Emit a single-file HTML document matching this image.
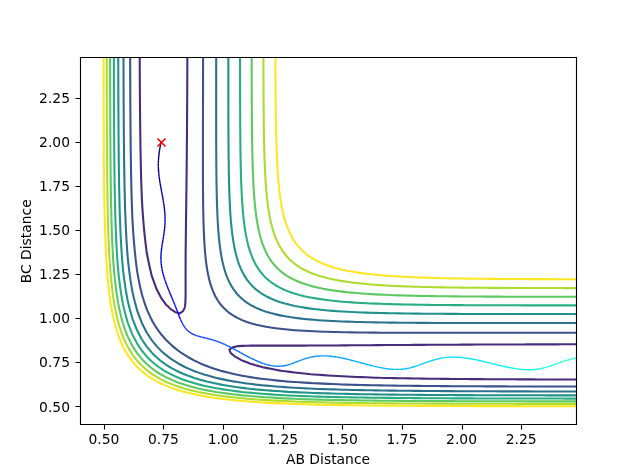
<!DOCTYPE html>
<html><head><meta charset="utf-8"><title>AB/BC Distance contour plot</title>
<style>html,body{margin:0;padding:0;background:#fff;overflow:hidden}svg{display:block;will-change:transform}</style></head>
<body>
<svg width="640" height="476" viewBox="0 0 640 476">
<rect x="0" y="0" width="640" height="476" fill="#ffffff"/>
<clipPath id="ax"><rect x="80.0" y="57.12" width="496.0" height="366.52"/></clipPath>
<g clip-path="url(#ax)" fill="none" stroke-linejoin="round" stroke-linecap="butt">
<path d="M576.00 379.52 L571.23 379.51 L566.46 379.50 L561.69 379.49 L556.92 379.47 L552.15 379.46 L547.38 379.45 L542.62 379.43 L537.85 379.42 L533.08 379.40 L528.31 379.39 L523.54 379.37 L518.77 379.35 L514.00 379.33 L509.23 379.31 L504.46 379.29 L499.69 379.26 L494.92 379.24 L490.15 379.21 L485.38 379.19 L480.62 379.16 L475.85 379.12 L471.08 379.09 L466.31 379.05 L461.54 379.02 L456.77 378.98 L452.00 378.93 L447.23 378.89 L442.46 378.84 L437.69 378.79 L432.92 378.73 L428.15 378.67 L423.38 378.61 L418.62 378.54 L413.85 378.47 L409.08 378.40 L404.31 378.32 L399.54 378.23 L394.77 378.14 L390.00 378.04 L385.23 377.94 L380.46 377.83 L380.29 377.82 L375.69 377.67 L370.92 377.50 L366.15 377.33 L361.38 377.14 L356.62 376.93 L351.85 376.72 L347.08 376.49 L342.31 376.25 L337.54 376.00 L332.77 375.73 L328.00 375.44 L323.23 375.14 L318.46 374.83 L313.69 374.49 L311.14 374.30 L308.92 374.07 L304.15 373.56 L299.38 373.03 L294.62 372.47 L289.85 371.89 L285.08 371.30 L281.08 370.78 L280.31 370.63 L275.54 369.72 L270.77 368.80 L266.00 367.88 L262.82 367.25 L261.23 366.80 L256.46 365.43 L251.69 364.11 L250.32 363.73 L246.92 362.32 L242.15 360.50 L241.35 360.20 L237.38 357.91 L234.96 356.68 L232.62 354.56 L230.77 353.16 L229.34 349.63 L232.62 347.37 L237.38 346.18 L238.01 346.11 L242.15 345.85 L246.92 345.70 L251.69 345.63 L256.46 345.61 L261.23 345.60 L266.00 345.61 L270.77 345.61 L275.54 345.62 L280.31 345.63 L285.08 345.63 L289.85 345.62 L294.62 345.62 L299.38 345.61 L304.15 345.59 L308.92 345.58 L313.69 345.55 L318.46 345.53 L323.23 345.50 L328.00 345.48 L332.77 345.45 L337.54 345.42 L342.31 345.38 L347.08 345.35 L351.85 345.32 L356.62 345.28 L361.38 345.25 L366.15 345.21 L370.92 345.18 L375.69 345.15 L380.46 345.11 L385.23 345.08 L390.00 345.05 L394.77 345.02 L399.54 344.98 L404.31 344.95 L409.08 344.92 L413.85 344.89 L418.62 344.87 L423.38 344.84 L428.15 344.81 L432.92 344.79 L437.69 344.76 L442.46 344.74 L447.23 344.71 L452.00 344.69 L456.77 344.67 L461.54 344.65 L466.31 344.62 L471.08 344.60 L475.85 344.58 L480.62 344.57 L485.38 344.55 L490.15 344.53 L494.92 344.51 L499.69 344.50 L504.46 344.48 L509.23 344.47 L514.00 344.45 L518.77 344.44 L523.54 344.43 L528.31 344.41 L533.08 344.40 L537.85 344.39 L542.62 344.38 L547.38 344.37 L552.15 344.35 L556.92 344.34 L561.69 344.33 L566.46 344.33 L571.23 344.32 L576.00 344.31 M187.36 57.12 L187.35 60.64 L187.33 64.17 L187.32 67.69 L187.31 71.22 L187.29 74.74 L187.28 78.27 L187.27 81.79 L187.25 85.31 L187.23 88.84 L187.22 92.36 L187.20 95.89 L187.18 99.41 L187.16 102.93 L187.14 106.46 L187.12 109.98 L187.10 113.51 L187.08 117.03 L187.06 120.56 L187.03 124.08 L187.01 127.60 L186.98 131.13 L186.96 134.65 L186.93 138.18 L186.90 141.70 L186.87 145.23 L186.84 148.75 L186.81 152.27 L186.78 155.80 L186.75 159.32 L186.71 162.85 L186.68 166.37 L186.64 169.90 L186.60 173.42 L186.56 176.94 L186.52 180.47 L186.48 183.99 L186.44 187.52 L186.40 191.04 L186.36 194.56 L186.31 198.09 L186.27 201.61 L186.22 205.14 L186.18 208.66 L186.13 212.19 L186.08 215.71 L186.04 219.23 L185.99 222.76 L185.95 226.28 L185.90 229.81 L185.86 233.33 L185.82 236.86 L185.78 240.38 L185.74 243.90 L185.70 247.43 L185.67 250.95 L185.64 254.48 L185.62 258.00 L185.60 261.53 L185.58 265.05 L185.58 268.57 L185.57 272.10 L185.57 275.62 L185.58 279.15 L185.59 282.67 L185.60 286.19 L185.61 289.72 L185.60 293.24 L185.56 296.77 L185.47 300.29 L185.27 303.82 L184.92 306.88 L184.82 307.34 L183.22 310.86 L180.15 313.28 L175.38 312.23 L173.49 310.86 L170.62 309.13 L168.95 307.34 L165.85 304.41 L165.44 303.82 L162.98 300.29 L161.08 297.78 L160.56 296.77 L158.78 293.24 L156.92 289.72 L156.31 288.55 L155.46 286.19 L154.21 282.67 L152.96 279.15 L151.73 275.62 L151.54 275.05 L150.84 272.10 L150.03 268.57 L149.25 265.05 L148.49 261.53 L147.77 258.00 L147.08 254.48 L146.77 252.84 L146.51 250.95 L146.06 247.43 L145.63 243.90 L145.22 240.38 L144.84 236.86 L144.47 233.33 L144.13 229.81 L143.80 226.28 L143.49 222.76 L143.21 219.23 L142.93 215.71 L142.68 212.19 L142.43 208.66 L142.21 205.14 L142.00 201.74 L141.99 201.61 L141.84 198.09 L141.70 194.56 L141.57 191.04 L141.45 187.52 L141.33 183.99 L141.22 180.47 L141.12 176.94 L141.03 173.42 L140.94 169.90 L140.85 166.37 L140.77 162.85 L140.70 159.32 L140.63 155.80 L140.56 152.27 L140.50 148.75 L140.44 145.23 L140.39 141.70 L140.34 138.18 L140.29 134.65 L140.24 131.13 L140.20 127.60 L140.16 124.08 L140.12 120.56 L140.09 117.03 L140.05 113.51 L140.02 109.98 L139.99 106.46 L139.96 102.93 L139.93 99.41 L139.91 95.89 L139.89 92.36 L139.86 88.84 L139.84 85.31 L139.82 81.79 L139.80 78.27 L139.79 74.74 L139.77 71.22 L139.75 67.69 L139.74 64.17 L139.72 60.64 L139.71 57.12" stroke="#472d7b" stroke-width="2.083"/>
<path d="M576.00 386.56 L571.23 386.56 L566.46 386.55 L561.69 386.54 L556.92 386.53 L552.15 386.53 L547.38 386.52 L542.62 386.51 L537.85 386.50 L533.08 386.49 L528.31 386.48 L523.54 386.46 L518.77 386.45 L514.00 386.44 L509.23 386.42 L504.46 386.41 L499.69 386.39 L494.92 386.38 L490.15 386.36 L485.38 386.34 L480.62 386.32 L475.85 386.30 L471.08 386.27 L466.31 386.25 L461.54 386.22 L456.77 386.20 L452.00 386.17 L447.23 386.14 L442.46 386.10 L437.69 386.07 L432.92 386.03 L428.15 385.99 L423.38 385.94 L418.62 385.90 L413.85 385.85 L409.08 385.79 L404.31 385.74 L399.54 385.68 L394.77 385.61 L390.00 385.54 L385.23 385.47 L380.46 385.39 L375.69 385.30 L370.92 385.21 L366.15 385.12 L361.38 385.01 L356.62 384.90 L355.50 384.87 L351.85 384.76 L347.08 384.60 L342.31 384.44 L337.54 384.26 L332.77 384.07 L328.00 383.86 L323.23 383.65 L318.46 383.41 L313.69 383.17 L308.92 382.91 L304.15 382.63 L299.38 382.33 L294.62 382.02 L289.85 381.68 L285.37 381.35 L285.08 381.32 L280.31 380.85 L275.54 380.36 L270.77 379.83 L266.00 379.28 L261.23 378.71 L256.46 378.10 L254.40 377.82 L251.69 377.38 L246.92 376.55 L242.15 375.69 L237.38 374.80 L234.84 374.30 L232.62 373.77 L227.85 372.59 L223.08 371.38 L220.76 370.78 L218.31 370.00 L213.54 368.46 L209.84 367.25 L208.77 366.84 L204.00 364.93 L201.02 363.73 L199.23 362.89 L194.46 360.63 L193.61 360.20 L189.69 358.03 L187.31 356.68 L184.92 355.19 L181.79 353.16 L180.15 352.01 L176.93 349.63 L175.38 348.42 L172.64 346.11 L170.62 344.34 L168.79 342.58 L165.85 339.69 L165.28 339.06 L162.21 335.53 L161.08 334.21 L159.45 332.01 L156.87 328.49 L156.31 327.70 L154.67 324.96 L152.58 321.44 L151.54 319.63 L150.72 317.91 L149.09 314.39 L147.49 310.86 L146.77 309.22 L146.10 307.34 L144.89 303.82 L143.73 300.29 L142.61 296.77 L142.00 294.77 L141.63 293.24 L140.81 289.72 L140.02 286.19 L139.28 282.67 L138.57 279.15 L137.90 275.62 L137.27 272.10 L137.23 271.89 L136.78 268.57 L136.33 265.05 L135.90 261.53 L135.50 258.00 L135.12 254.48 L134.77 250.95 L134.44 247.43 L134.12 243.90 L133.83 240.38 L133.55 236.86 L133.30 233.33 L133.05 229.81 L132.83 226.28 L132.61 222.76 L132.46 220.06 L132.42 219.23 L132.27 215.71 L132.13 212.19 L132.00 208.66 L131.88 205.14 L131.77 201.61 L131.66 198.09 L131.56 194.56 L131.46 191.04 L131.38 187.52 L131.29 183.99 L131.22 180.47 L131.15 176.94 L131.08 173.42 L131.01 169.90 L130.96 166.37 L130.90 162.85 L130.85 159.32 L130.80 155.80 L130.75 152.27 L130.71 148.75 L130.67 145.23 L130.63 141.70 L130.60 138.18 L130.57 134.65 L130.53 131.13 L130.50 127.60 L130.48 124.08 L130.45 120.56 L130.43 117.03 L130.40 113.51 L130.38 109.98 L130.36 106.46 L130.34 102.93 L130.33 99.41 L130.31 95.89 L130.29 92.36 L130.28 88.84 L130.26 85.31 L130.25 81.79 L130.24 78.27 L130.23 74.74 L130.22 71.22 L130.20 67.69 L130.19 64.17 L130.18 60.64 L130.18 57.12 M203.09 57.12 L203.09 60.64 L203.08 64.17 L203.07 67.69 L203.07 71.22 L203.06 74.74 L203.05 78.27 L203.05 81.79 L203.04 85.31 L203.03 88.84 L203.02 92.36 L203.01 95.89 L203.01 99.41 L203.00 102.93 L202.99 106.46 L202.98 109.98 L202.98 113.51 L202.97 117.03 L202.96 120.56 L202.95 124.08 L202.95 127.60 L202.94 131.13 L202.93 134.65 L202.93 138.18 L202.92 141.70 L202.92 145.23 L202.91 148.75 L202.91 152.27 L202.91 155.80 L202.91 159.32 L202.91 162.85 L202.91 166.37 L202.92 169.90 L202.92 173.42 L202.93 176.94 L202.95 180.47 L202.96 183.99 L202.98 187.52 L203.00 191.04 L203.03 194.56 L203.06 198.09 L203.10 201.61 L203.15 205.14 L203.20 208.66 L203.27 212.19 L203.34 215.71 L203.42 219.23 L203.52 222.76 L203.63 226.28 L203.76 229.81 L203.90 233.33 L204.00 235.40 L204.07 236.86 L204.25 240.38 L204.45 243.90 L204.69 247.43 L204.96 250.95 L205.27 254.48 L205.62 258.00 L206.02 261.53 L206.49 265.05 L207.02 268.57 L207.64 272.10 L208.35 275.62 L208.77 277.46 L209.16 279.15 L210.07 282.67 L211.15 286.19 L212.41 289.72 L213.54 292.43 L213.89 293.24 L215.61 296.77 L217.67 300.29 L218.31 301.26 L220.12 303.82 L223.08 307.30 L223.11 307.34 L226.79 310.86 L227.85 311.74 L231.43 314.39 L232.62 315.17 L237.38 317.89 L237.44 317.91 L242.15 320.10 L245.62 321.44 L246.92 321.91 L251.69 323.43 L256.46 324.70 L257.57 324.96 L261.23 325.80 L266.00 326.73 L270.77 327.52 L275.54 328.20 L277.82 328.49 L280.31 328.80 L285.08 329.32 L289.85 329.78 L294.62 330.17 L299.38 330.52 L304.15 330.81 L308.92 331.07 L313.69 331.30 L318.46 331.50 L323.23 331.68 L328.00 331.83 L332.77 331.96 L334.74 332.01 L337.54 332.08 L342.31 332.19 L347.08 332.28 L351.85 332.37 L356.62 332.44 L361.38 332.50 L366.15 332.55 L370.92 332.60 L375.69 332.64 L380.46 332.67 L385.23 332.70 L390.00 332.73 L394.77 332.75 L399.54 332.76 L404.31 332.78 L409.08 332.79 L413.85 332.80 L418.62 332.81 L423.38 332.81 L428.15 332.81 L432.92 332.82 L437.69 332.82 L442.46 332.82 L447.23 332.82 L452.00 332.81 L456.77 332.81 L461.54 332.81 L466.31 332.80 L471.08 332.80 L475.85 332.79 L480.62 332.79 L485.38 332.78 L490.15 332.78 L494.92 332.77 L499.69 332.77 L504.46 332.76 L509.23 332.76 L514.00 332.75 L518.77 332.74 L523.54 332.74 L528.31 332.73 L533.08 332.73 L537.85 332.72 L542.62 332.72 L547.38 332.71 L552.15 332.70 L556.92 332.70 L561.69 332.69 L566.46 332.69 L571.23 332.68 L576.00 332.68" stroke="#3b528b" stroke-width="2.083"/>
<path d="M576.00 391.49 L571.23 391.48 L566.46 391.48 L561.69 391.47 L556.92 391.46 L552.15 391.46 L547.38 391.45 L542.62 391.44 L537.85 391.43 L533.08 391.42 L528.31 391.41 L523.54 391.40 L518.77 391.39 L514.00 391.38 L509.23 391.37 L504.46 391.36 L499.69 391.34 L494.92 391.33 L490.15 391.31 L485.38 391.30 L480.62 391.28 L475.85 391.26 L471.08 391.24 L466.31 391.22 L461.54 391.20 L456.77 391.17 L452.00 391.15 L447.23 391.12 L442.46 391.09 L437.69 391.06 L432.92 391.02 L428.15 390.99 L423.38 390.95 L418.62 390.91 L413.85 390.86 L409.08 390.82 L404.31 390.77 L399.54 390.71 L394.77 390.66 L390.00 390.59 L385.23 390.53 L380.46 390.46 L375.69 390.38 L370.92 390.30 L366.15 390.21 L361.38 390.12 L356.62 390.02 L351.85 389.92 L347.08 389.80 L342.31 389.68 L337.54 389.55 L332.77 389.41 L328.00 389.26 L323.23 389.10 L318.46 388.93 L313.69 388.75 L308.92 388.55 L305.36 388.40 L304.15 388.33 L299.38 388.06 L294.62 387.78 L289.85 387.47 L285.08 387.14 L280.31 386.80 L275.54 386.43 L270.77 386.03 L266.00 385.61 L261.23 385.17 L258.24 384.87 L256.46 384.66 L251.69 384.06 L246.92 383.42 L242.15 382.75 L237.38 382.05 L232.90 381.35 L232.62 381.30 L227.85 380.36 L223.08 379.38 L218.31 378.36 L215.94 377.82 L213.54 377.19 L208.77 375.87 L204.00 374.51 L203.32 374.30 L199.23 372.87 L194.46 371.16 L193.44 370.78 L189.69 369.16 L185.37 367.25 L184.92 367.03 L180.15 364.53 L178.70 363.73 L175.38 361.73 L173.00 360.20 L170.62 358.56 L168.07 356.68 L165.85 354.92 L163.78 353.16 L161.08 350.71 L159.99 349.63 L156.61 346.11 L156.31 345.77 L153.72 342.58 L151.54 339.81 L151.02 339.06 L148.70 335.53 L146.77 332.51 L146.49 332.01 L144.65 328.49 L142.86 324.96 L142.00 323.18 L141.28 321.44 L139.90 317.91 L138.57 314.39 L137.30 310.86 L137.23 310.66 L136.29 307.34 L135.33 303.82 L134.42 300.29 L133.56 296.77 L132.75 293.24 L132.46 291.93 L132.06 289.72 L131.46 286.19 L130.89 282.67 L130.36 279.15 L129.86 275.62 L129.39 272.10 L128.95 268.57 L128.53 265.05 L128.14 261.53 L127.78 258.00 L127.69 257.11 L127.48 254.48 L127.22 250.95 L126.97 247.43 L126.74 243.90 L126.52 240.38 L126.32 236.86 L126.13 233.33 L125.95 229.81 L125.79 226.28 L125.64 222.76 L125.49 219.23 L125.36 215.71 L125.23 212.19 L125.12 208.66 L125.01 205.14 L124.90 201.61 L124.81 198.09 L124.72 194.56 L124.64 191.04 L124.56 187.52 L124.49 183.99 L124.42 180.47 L124.35 176.94 L124.29 173.42 L124.24 169.90 L124.19 166.37 L124.14 162.85 L124.09 159.32 L124.05 155.80 L124.01 152.27 L123.97 148.75 L123.94 145.23 L123.90 141.70 L123.87 138.18 L123.85 134.65 L123.82 131.13 L123.79 127.60 L123.77 124.08 L123.75 120.56 L123.73 117.03 L123.71 113.51 L123.69 109.98 L123.67 106.46 L123.65 102.93 L123.64 99.41 L123.62 95.89 L123.61 92.36 L123.60 88.84 L123.58 85.31 L123.57 81.79 L123.56 78.27 L123.55 74.74 L123.54 71.22 L123.53 67.69 L123.52 64.17 L123.52 60.64 L123.51 57.12 M216.21 57.12 L216.21 60.64 L216.20 64.17 L216.20 67.69 L216.20 71.22 L216.19 74.74 L216.19 78.27 L216.19 81.79 L216.18 85.31 L216.18 88.84 L216.18 92.36 L216.18 95.89 L216.17 99.41 L216.17 102.93 L216.17 106.46 L216.17 109.98 L216.17 113.51 L216.17 117.03 L216.17 120.56 L216.18 124.08 L216.18 127.60 L216.18 131.13 L216.19 134.65 L216.20 138.18 L216.21 141.70 L216.22 145.23 L216.23 148.75 L216.25 152.27 L216.26 155.80 L216.28 159.32 L216.31 162.85 L216.33 166.37 L216.37 169.90 L216.40 173.42 L216.44 176.94 L216.49 180.47 L216.54 183.99 L216.60 187.52 L216.67 191.04 L216.74 194.56 L216.83 198.09 L216.92 201.61 L217.03 205.14 L217.15 208.66 L217.29 212.19 L217.44 215.71 L217.61 219.23 L217.81 222.76 L218.03 226.28 L218.27 229.81 L218.31 230.26 L218.54 233.33 L218.85 236.86 L219.19 240.38 L219.58 243.90 L220.02 247.43 L220.51 250.95 L221.08 254.48 L221.72 258.00 L222.44 261.53 L223.08 264.23 L223.27 265.05 L224.21 268.57 L225.28 272.10 L226.52 275.62 L227.85 278.89 L227.96 279.15 L229.62 282.67 L231.56 286.19 L232.62 287.88 L233.84 289.72 L236.55 293.24 L237.38 294.20 L239.83 296.77 L242.15 298.91 L243.82 300.29 L246.92 302.59 L248.80 303.82 L251.69 305.54 L255.17 307.34 L256.46 307.95 L261.23 309.96 L263.71 310.86 L266.00 311.65 L270.77 313.08 L275.54 314.31 L275.89 314.39 L280.31 315.37 L285.08 316.28 L289.85 317.08 L294.62 317.77 L295.72 317.91 L299.38 318.38 L304.15 318.92 L308.92 319.39 L313.69 319.81 L318.46 320.17 L323.23 320.50 L328.00 320.78 L332.77 321.04 L337.54 321.26 L341.69 321.44 L342.31 321.46 L347.08 321.64 L351.85 321.81 L356.62 321.95 L361.38 322.08 L366.15 322.19 L370.92 322.29 L375.69 322.38 L380.46 322.46 L385.23 322.53 L390.00 322.59 L394.77 322.65 L399.54 322.70 L404.31 322.74 L409.08 322.78 L413.85 322.82 L418.62 322.85 L423.38 322.87 L428.15 322.90 L432.92 322.92 L437.69 322.93 L442.46 322.95 L447.23 322.96 L452.00 322.97 L456.77 322.98 L461.54 322.99 L466.31 323.00 L471.08 323.00 L475.85 323.01 L480.62 323.01 L485.38 323.01 L490.15 323.01 L494.92 323.01 L499.69 323.02 L504.46 323.02 L509.23 323.02 L514.00 323.01 L518.77 323.01 L523.54 323.01 L528.31 323.01 L533.08 323.01 L537.85 323.01 L542.62 323.00 L547.38 323.00 L552.15 323.00 L556.92 323.00 L561.69 322.99 L566.46 322.99 L571.23 322.99 L576.00 322.99" stroke="#2c728e" stroke-width="2.083"/>
<path d="M576.00 395.38 L571.23 395.37 L566.46 395.37 L561.69 395.36 L556.92 395.35 L552.15 395.35 L547.38 395.34 L542.62 395.33 L537.85 395.33 L533.08 395.32 L528.31 395.31 L523.54 395.30 L518.77 395.29 L514.00 395.28 L509.23 395.27 L504.46 395.26 L499.69 395.25 L494.92 395.24 L490.15 395.22 L485.38 395.21 L480.62 395.19 L475.85 395.18 L471.08 395.16 L466.31 395.14 L461.54 395.12 L456.77 395.10 L452.00 395.08 L447.23 395.05 L442.46 395.03 L437.69 395.00 L432.92 394.97 L428.15 394.94 L423.38 394.90 L418.62 394.87 L413.85 394.83 L409.08 394.79 L404.31 394.74 L399.54 394.70 L394.77 394.65 L390.00 394.59 L385.23 394.53 L380.46 394.47 L375.69 394.40 L370.92 394.33 L366.15 394.26 L361.38 394.17 L356.62 394.09 L351.85 393.99 L347.08 393.89 L342.31 393.78 L337.54 393.67 L332.77 393.54 L328.00 393.41 L323.23 393.26 L318.46 393.11 L313.69 392.95 L308.92 392.77 L304.15 392.58 L299.38 392.38 L294.62 392.16 L289.85 391.93 L289.64 391.92 L285.08 391.64 L280.31 391.33 L275.54 390.99 L270.77 390.63 L266.00 390.25 L261.23 389.85 L256.46 389.42 L251.69 388.95 L246.92 388.47 L246.31 388.40 L242.15 387.86 L237.38 387.21 L232.62 386.52 L227.85 385.79 L223.08 385.01 L222.26 384.87 L218.31 384.08 L213.54 383.07 L208.77 382.01 L205.96 381.35 L204.00 380.82 L199.23 379.46 L194.46 378.04 L193.79 377.82 L189.69 376.35 L184.92 374.56 L184.26 374.30 L180.15 372.46 L176.54 370.78 L175.38 370.18 L170.62 367.56 L170.09 367.25 L165.85 364.54 L164.66 363.73 L161.08 361.08 L159.98 360.20 L156.31 357.07 L155.89 356.68 L152.35 353.16 L151.54 352.30 L149.26 349.63 L146.77 346.59 L146.41 346.11 L144.00 342.58 L142.00 339.55 L141.71 339.06 L139.79 335.53 L137.95 332.01 L137.23 330.56 L136.34 328.49 L134.91 324.96 L133.54 321.44 L132.46 318.52 L132.27 317.91 L131.23 314.39 L130.24 310.86 L129.30 307.34 L128.42 303.82 L127.69 300.75 L127.60 300.29 L126.94 296.77 L126.32 293.24 L125.73 289.72 L125.18 286.19 L124.67 282.67 L124.18 279.15 L123.73 275.62 L123.30 272.10 L122.92 268.73 L122.91 268.57 L122.60 265.05 L122.30 261.53 L122.03 258.00 L121.77 254.48 L121.54 250.95 L121.31 247.43 L121.11 243.90 L120.91 240.38 L120.73 236.86 L120.56 233.33 L120.41 229.81 L120.26 226.28 L120.12 222.76 L119.99 219.23 L119.88 215.71 L119.76 212.19 L119.66 208.66 L119.56 205.14 L119.47 201.61 L119.39 198.09 L119.31 194.56 L119.24 191.04 L119.17 187.52 L119.10 183.99 L119.04 180.47 L118.99 176.94 L118.94 173.42 L118.89 169.90 L118.84 166.37 L118.80 162.85 L118.76 159.32 L118.72 155.80 L118.69 152.27 L118.65 148.75 L118.62 145.23 L118.59 141.70 L118.57 138.18 L118.54 134.65 L118.52 131.13 L118.50 127.60 L118.47 124.08 L118.46 120.56 L118.44 117.03 L118.42 113.51 L118.40 109.98 L118.39 106.46 L118.37 102.93 L118.36 99.41 L118.35 95.89 L118.34 92.36 L118.33 88.84 L118.31 85.31 L118.30 81.79 L118.30 78.27 L118.29 74.74 L118.28 71.22 L118.27 67.69 L118.26 64.17 L118.26 60.64 L118.25 57.12 M228.35 57.12 L228.35 60.64 L228.35 64.17 L228.34 67.69 L228.34 71.22 L228.34 74.74 L228.34 78.27 L228.34 81.79 L228.34 85.31 L228.34 88.84 L228.35 92.36 L228.35 95.89 L228.35 99.41 L228.36 102.93 L228.36 106.46 L228.37 109.98 L228.37 113.51 L228.38 117.03 L228.39 120.56 L228.40 124.08 L228.41 127.60 L228.43 131.13 L228.44 134.65 L228.46 138.18 L228.49 141.70 L228.51 145.23 L228.54 148.75 L228.57 152.27 L228.60 155.80 L228.64 159.32 L228.69 162.85 L228.74 166.37 L228.79 169.90 L228.86 173.42 L228.93 176.94 L229.01 180.47 L229.09 183.99 L229.19 187.52 L229.30 191.04 L229.42 194.56 L229.56 198.09 L229.71 201.61 L229.88 205.14 L230.07 208.66 L230.28 212.19 L230.51 215.71 L230.78 219.23 L231.07 222.76 L231.40 226.28 L231.77 229.81 L232.18 233.33 L232.62 236.60 L232.65 236.86 L233.17 240.38 L233.76 243.90 L234.42 247.43 L235.17 250.95 L236.02 254.48 L236.98 258.00 L237.38 259.33 L238.08 261.53 L239.34 265.05 L240.78 268.57 L242.15 271.52 L242.44 272.10 L244.38 275.62 L246.64 279.15 L246.92 279.55 L249.32 282.67 L251.69 285.35 L252.51 286.19 L256.36 289.72 L256.46 289.80 L261.12 293.24 L261.23 293.32 L266.00 296.16 L267.15 296.77 L270.77 298.52 L275.00 300.29 L275.54 300.50 L280.31 302.17 L285.08 303.60 L285.86 303.82 L289.85 304.83 L294.62 305.90 L299.38 306.83 L302.35 307.34 L304.15 307.64 L308.92 308.35 L313.69 308.98 L318.46 309.53 L323.23 310.02 L328.00 310.45 L332.77 310.84 L333.11 310.86 L337.54 311.18 L342.31 311.49 L347.08 311.76 L351.85 312.01 L356.62 312.22 L361.38 312.42 L366.15 312.59 L370.92 312.75 L375.69 312.89 L380.46 313.01 L385.23 313.12 L390.00 313.22 L394.77 313.31 L399.54 313.40 L404.31 313.47 L409.08 313.53 L413.85 313.59 L418.62 313.64 L423.38 313.69 L428.15 313.73 L432.92 313.77 L437.69 313.80 L442.46 313.83 L447.23 313.85 L452.00 313.88 L456.77 313.90 L461.54 313.92 L466.31 313.93 L471.08 313.95 L475.85 313.96 L480.62 313.97 L485.38 313.98 L490.15 313.99 L494.92 313.99 L499.69 314.00 L504.46 314.00 L509.23 314.01 L514.00 314.01 L518.77 314.02 L523.54 314.02 L528.31 314.02 L533.08 314.02 L537.85 314.02 L542.62 314.02 L547.38 314.02 L552.15 314.02 L556.92 314.02 L561.69 314.02 L566.46 314.02 L571.23 314.02 L576.00 314.02" stroke="#21918c" stroke-width="2.083"/>
<path d="M576.00 398.60 L571.23 398.59 L566.46 398.59 L561.69 398.58 L556.92 398.58 L552.15 398.57 L547.38 398.57 L542.62 398.56 L537.85 398.56 L533.08 398.55 L528.31 398.54 L523.54 398.53 L518.77 398.53 L514.00 398.52 L509.23 398.51 L504.46 398.50 L499.69 398.49 L494.92 398.48 L490.15 398.47 L485.38 398.45 L480.62 398.44 L475.85 398.43 L471.08 398.41 L466.31 398.39 L461.54 398.38 L456.77 398.36 L452.00 398.34 L447.23 398.32 L442.46 398.29 L437.69 398.27 L432.92 398.24 L428.15 398.22 L423.38 398.19 L418.62 398.15 L413.85 398.12 L409.08 398.08 L404.31 398.05 L399.54 398.00 L394.77 397.96 L390.00 397.91 L385.23 397.86 L380.46 397.80 L375.69 397.75 L370.92 397.68 L366.15 397.61 L361.38 397.54 L356.62 397.46 L351.85 397.38 L347.08 397.29 L342.31 397.19 L337.54 397.09 L332.77 396.98 L328.00 396.86 L323.23 396.73 L318.46 396.59 L313.69 396.45 L308.92 396.29 L304.15 396.12 L299.38 395.94 L294.62 395.74 L289.85 395.54 L287.93 395.45 L285.08 395.29 L280.31 395.01 L275.54 394.71 L270.77 394.39 L266.00 394.04 L261.23 393.68 L256.46 393.29 L251.69 392.87 L246.92 392.42 L242.15 391.95 L241.92 391.92 L237.38 391.36 L232.62 390.73 L227.85 390.06 L223.08 389.35 L218.31 388.59 L217.14 388.40 L213.54 387.70 L208.77 386.71 L204.00 385.68 L200.51 384.87 L199.23 384.54 L194.46 383.20 L189.69 381.81 L188.23 381.35 L184.92 380.18 L180.15 378.42 L178.66 377.82 L175.38 376.38 L170.88 374.30 L170.62 374.17 L165.85 371.55 L164.51 370.78 L161.08 368.59 L159.12 367.25 L156.31 365.17 L154.50 363.73 L151.54 361.19 L150.49 360.20 L146.95 356.68 L146.77 356.49 L143.95 353.16 L142.00 350.74 L141.20 349.63 L138.81 346.11 L137.23 343.66 L136.61 342.58 L134.72 339.06 L132.92 335.53 L132.46 334.59 L131.37 332.01 L129.97 328.49 L128.64 324.96 L127.69 322.30 L127.43 321.44 L126.41 317.91 L125.45 314.39 L124.54 310.86 L123.69 307.34 L122.92 303.99 L122.89 303.82 L122.25 300.29 L121.64 296.77 L121.08 293.24 L120.55 289.72 L120.05 286.19 L119.59 282.67 L119.15 279.15 L118.75 275.62 L118.37 272.10 L118.15 269.99 L118.03 268.57 L117.75 265.05 L117.49 261.53 L117.24 258.00 L117.01 254.48 L116.80 250.95 L116.60 247.43 L116.41 243.90 L116.24 240.38 L116.08 236.86 L115.93 233.33 L115.79 229.81 L115.66 226.28 L115.54 222.76 L115.42 219.23 L115.32 215.71 L115.22 212.19 L115.13 208.66 L115.04 205.14 L114.96 201.61 L114.89 198.09 L114.82 194.56 L114.75 191.04 L114.69 187.52 L114.64 183.99 L114.58 180.47 L114.53 176.94 L114.49 173.42 L114.45 169.90 L114.41 166.37 L114.37 162.85 L114.33 159.32 L114.30 155.80 L114.27 152.27 L114.24 148.75 L114.21 145.23 L114.19 141.70 L114.16 138.18 L114.14 134.65 L114.12 131.13 L114.10 127.60 L114.08 124.08 L114.07 120.56 L114.05 117.03 L114.04 113.51 L114.02 109.98 L114.01 106.46 L114.00 102.93 L113.99 99.41 L113.97 95.89 L113.96 92.36 L113.95 88.84 L113.95 85.31 L113.94 81.79 L113.93 78.27 L113.92 74.74 L113.91 71.22 L113.91 67.69 L113.90 64.17 L113.89 60.64 L113.89 57.12 M240.06 57.12 L240.06 60.64 L240.06 64.17 L240.06 67.69 L240.07 71.22 L240.07 74.74 L240.07 78.27 L240.07 81.79 L240.08 85.31 L240.08 88.84 L240.09 92.36 L240.10 95.89 L240.10 99.41 L240.11 102.93 L240.12 106.46 L240.14 109.98 L240.15 113.51 L240.17 117.03 L240.18 120.56 L240.20 124.08 L240.23 127.60 L240.25 131.13 L240.28 134.65 L240.31 138.18 L240.35 141.70 L240.39 145.23 L240.43 148.75 L240.48 152.27 L240.53 155.80 L240.60 159.32 L240.66 162.85 L240.74 166.37 L240.82 169.90 L240.92 173.42 L241.02 176.94 L241.13 180.47 L241.26 183.99 L241.40 187.52 L241.56 191.04 L241.74 194.56 L241.93 198.09 L242.15 201.61 L242.15 201.73 L242.39 205.14 L242.66 208.66 L242.95 212.19 L243.29 215.71 L243.66 219.23 L244.08 222.76 L244.54 226.28 L245.06 229.81 L245.64 233.33 L246.30 236.86 L246.92 239.85 L247.04 240.38 L247.88 243.90 L248.82 247.43 L249.90 250.95 L251.11 254.48 L251.69 255.97 L252.52 258.00 L254.13 261.53 L255.98 265.05 L256.46 265.87 L258.15 268.57 L260.68 272.10 L261.23 272.79 L263.70 275.62 L266.00 277.95 L267.30 279.15 L270.77 281.99 L271.69 282.67 L275.54 285.24 L277.16 286.19 L280.31 287.90 L284.15 289.72 L285.08 290.13 L289.85 291.99 L293.50 293.24 L294.62 293.60 L299.38 294.97 L304.15 296.16 L306.90 296.77 L308.92 297.19 L313.69 298.09 L318.46 298.89 L323.23 299.59 L328.00 300.21 L328.72 300.29 L332.77 300.75 L337.54 301.24 L342.31 301.67 L347.08 302.05 L351.85 302.40 L356.62 302.70 L361.38 302.98 L366.15 303.22 L370.92 303.45 L375.69 303.64 L380.30 303.82 L380.46 303.82 L385.23 303.98 L390.00 304.13 L394.77 304.25 L399.54 304.37 L404.31 304.48 L409.08 304.57 L413.85 304.66 L418.62 304.73 L423.38 304.80 L428.15 304.86 L432.92 304.92 L437.69 304.97 L442.46 305.01 L447.23 305.05 L452.00 305.09 L456.77 305.12 L461.54 305.15 L466.31 305.18 L471.08 305.20 L475.85 305.22 L480.62 305.24 L485.38 305.26 L490.15 305.27 L494.92 305.28 L499.69 305.30 L504.46 305.31 L509.23 305.32 L514.00 305.32 L518.77 305.33 L523.54 305.34 L528.31 305.34 L533.08 305.35 L537.85 305.35 L542.62 305.35 L547.38 305.36 L552.15 305.36 L556.92 305.36 L561.69 305.36 L566.46 305.36 L571.23 305.36 L576.00 305.36" stroke="#28ae80" stroke-width="2.083"/>
<path d="M576.00 401.39 L571.23 401.38 L566.46 401.38 L561.69 401.38 L556.92 401.37 L552.15 401.37 L547.38 401.36 L542.62 401.36 L537.85 401.35 L533.08 401.35 L528.31 401.34 L523.54 401.33 L518.77 401.33 L514.00 401.32 L509.23 401.31 L504.46 401.30 L499.69 401.29 L494.92 401.28 L490.15 401.27 L485.38 401.26 L480.62 401.25 L475.85 401.24 L471.08 401.22 L466.31 401.21 L461.54 401.19 L456.77 401.18 L452.00 401.16 L447.23 401.14 L442.46 401.12 L437.69 401.10 L432.92 401.08 L428.15 401.05 L423.38 401.03 L418.62 401.00 L413.85 400.97 L409.08 400.94 L404.31 400.90 L399.54 400.87 L394.77 400.83 L390.00 400.78 L385.23 400.74 L380.46 400.69 L375.69 400.64 L370.92 400.58 L366.15 400.52 L361.38 400.46 L356.62 400.39 L351.85 400.31 L347.08 400.23 L342.31 400.15 L337.54 400.05 L332.77 399.95 L328.00 399.85 L323.23 399.73 L318.46 399.61 L313.69 399.48 L308.92 399.34 L304.15 399.19 L299.38 399.02 L297.91 398.97 L294.62 398.83 L289.85 398.61 L285.08 398.38 L280.31 398.13 L275.54 397.86 L270.77 397.57 L266.00 397.26 L261.23 396.93 L256.46 396.58 L251.69 396.20 L246.92 395.80 L243.01 395.45 L242.15 395.36 L237.38 394.82 L232.62 394.25 L227.85 393.64 L223.08 393.00 L218.31 392.31 L215.79 391.92 L213.54 391.52 L208.77 390.62 L204.00 389.67 L199.23 388.67 L198.05 388.40 L194.46 387.48 L189.69 386.18 L185.13 384.87 L184.92 384.81 L180.15 383.15 L175.38 381.42 L175.19 381.35 L170.62 379.36 L167.27 377.82 L165.85 377.10 L161.08 374.53 L160.69 374.30 L156.31 371.52 L155.22 370.78 L151.54 368.06 L150.53 367.25 L146.77 364.02 L146.46 363.73 L142.98 360.20 L142.00 359.15 L139.92 356.68 L137.23 353.30 L137.13 353.16 L134.79 349.63 L132.55 346.11 L132.46 345.95 L130.69 342.58 L128.94 339.06 L127.69 336.41 L127.33 335.53 L125.97 332.01 L124.68 328.49 L123.46 324.96 L122.92 323.30 L122.40 321.44 L121.47 317.91 L120.59 314.39 L119.77 310.86 L119.00 307.34 L118.28 303.82 L118.15 303.18 L117.67 300.29 L117.13 296.77 L116.62 293.24 L116.14 289.72 L115.70 286.19 L115.28 282.67 L114.89 279.15 L114.53 275.62 L114.19 272.10 L113.87 268.57 L113.57 265.05 L113.38 262.62 L113.31 261.53 L113.09 258.00 L112.89 254.48 L112.70 250.95 L112.52 247.43 L112.35 243.90 L112.20 240.38 L112.05 236.86 L111.92 233.33 L111.79 229.81 L111.68 226.28 L111.57 222.76 L111.47 219.23 L111.38 215.71 L111.29 212.19 L111.21 208.66 L111.13 205.14 L111.06 201.61 L110.99 198.09 L110.93 194.56 L110.87 191.04 L110.82 187.52 L110.77 183.99 L110.72 180.47 L110.68 176.94 L110.64 173.42 L110.60 169.90 L110.57 166.37 L110.53 162.85 L110.50 159.32 L110.47 155.80 L110.45 152.27 L110.42 148.75 L110.40 145.23 L110.38 141.70 L110.35 138.18 L110.34 134.65 L110.32 131.13 L110.30 127.60 L110.28 124.08 L110.27 120.56 L110.26 117.03 L110.24 113.51 L110.23 109.98 L110.22 106.46 L110.21 102.93 L110.20 99.41 L110.19 95.89 L110.18 92.36 L110.17 88.84 L110.16 85.31 L110.15 81.79 L110.15 78.27 L110.14 74.74 L110.13 71.22 L110.13 67.69 L110.12 64.17 L110.12 60.64 L110.11 57.12 M251.68 57.12 L251.68 60.64 L251.69 64.17 L251.69 67.69 L251.69 68.90 L251.70 71.22 L251.70 74.74 L251.71 78.27 L251.71 81.79 L251.72 85.31 L251.73 88.84 L251.74 92.36 L251.76 95.89 L251.77 99.41 L251.78 102.93 L251.80 106.46 L251.82 109.98 L251.84 113.51 L251.87 117.03 L251.89 120.56 L251.92 124.08 L251.96 127.60 L252.00 131.13 L252.04 134.65 L252.08 138.18 L252.13 141.70 L252.19 145.23 L252.25 148.75 L252.32 152.27 L252.40 155.80 L252.49 159.32 L252.58 162.85 L252.69 166.37 L252.80 169.90 L252.93 173.42 L253.08 176.94 L253.24 180.47 L253.41 183.99 L253.61 187.52 L253.82 191.04 L254.06 194.56 L254.33 198.09 L254.62 201.61 L254.95 205.14 L255.32 208.66 L255.72 212.19 L256.18 215.71 L256.46 217.69 L256.69 219.23 L257.26 222.76 L257.90 226.28 L258.62 229.81 L259.43 233.33 L260.34 236.86 L261.23 239.94 L261.36 240.38 L262.55 243.90 L263.89 247.43 L265.41 250.95 L266.00 252.18 L267.18 254.48 L269.22 258.00 L270.77 260.36 L271.59 261.53 L274.39 265.05 L275.54 266.33 L277.73 268.57 L280.31 270.91 L281.75 272.10 L285.08 274.56 L286.68 275.62 L289.85 277.53 L292.89 279.15 L294.62 279.99 L299.38 282.06 L300.96 282.67 L304.15 283.82 L308.92 285.33 L312.03 286.19 L313.69 286.63 L318.46 287.76 L323.23 288.75 L328.00 289.62 L328.60 289.72 L332.77 290.38 L337.54 291.05 L342.31 291.65 L347.08 292.18 L351.85 292.65 L356.62 293.08 L358.70 293.24 L361.38 293.45 L366.15 293.79 L370.92 294.09 L375.69 294.36 L380.46 294.60 L385.23 294.82 L390.00 295.02 L394.77 295.19 L399.54 295.35 L404.31 295.50 L409.08 295.63 L413.85 295.74 L418.62 295.85 L423.38 295.95 L428.15 296.03 L432.92 296.11 L437.69 296.18 L442.46 296.24 L447.23 296.30 L452.00 296.35 L456.77 296.40 L461.54 296.44 L466.31 296.48 L471.08 296.51 L475.85 296.54 L480.62 296.57 L485.38 296.60 L490.15 296.62 L494.92 296.64 L499.69 296.66 L504.46 296.67 L509.23 296.69 L514.00 296.70 L518.77 296.71 L523.54 296.72 L528.31 296.73 L533.08 296.74 L537.85 296.75 L542.62 296.75 L547.38 296.76 L552.15 296.76 L556.92 296.77 L560.06 296.77 L561.69 296.77 L566.46 296.77 L571.23 296.77 L576.00 296.78" stroke="#5ec962" stroke-width="2.083"/>
<path d="M576.00 403.89 L571.23 403.89 L566.46 403.89 L561.69 403.88 L556.92 403.88 L552.15 403.88 L547.38 403.87 L542.62 403.87 L537.85 403.86 L533.08 403.86 L528.31 403.85 L523.54 403.85 L518.77 403.84 L514.00 403.83 L509.23 403.83 L504.46 403.82 L499.69 403.81 L494.92 403.80 L490.15 403.79 L485.38 403.78 L480.62 403.77 L475.85 403.76 L471.08 403.75 L466.31 403.74 L461.54 403.72 L456.77 403.71 L452.00 403.69 L447.23 403.68 L442.46 403.66 L437.69 403.64 L432.92 403.62 L428.15 403.60 L423.38 403.57 L418.62 403.55 L413.85 403.52 L409.08 403.49 L404.31 403.46 L399.54 403.43 L394.77 403.40 L390.00 403.36 L385.23 403.32 L380.46 403.27 L375.69 403.23 L370.92 403.18 L366.15 403.12 L361.38 403.07 L356.62 403.01 L351.85 402.94 L347.08 402.87 L342.31 402.79 L337.54 402.71 L332.77 402.62 L328.00 402.53 L326.57 402.49 L323.23 402.41 L318.46 402.28 L313.69 402.15 L308.92 402.00 L304.15 401.84 L299.38 401.68 L294.62 401.49 L289.85 401.30 L285.08 401.09 L280.31 400.87 L275.54 400.63 L270.77 400.37 L266.00 400.09 L261.23 399.80 L256.46 399.48 L251.69 399.14 L249.47 398.97 L246.92 398.75 L242.15 398.30 L237.38 397.81 L232.62 397.30 L227.85 396.75 L223.08 396.17 L218.31 395.54 L217.63 395.45 L213.54 394.79 L208.77 393.97 L204.00 393.10 L199.23 392.18 L197.97 391.92 L194.46 391.10 L189.69 389.91 L184.92 388.65 L184.02 388.40 L180.15 387.17 L175.38 385.56 L173.46 384.87 L170.62 383.73 L165.85 381.71 L165.05 381.35 L161.08 379.35 L158.23 377.82 L156.31 376.70 L152.50 374.30 L151.54 373.64 L147.66 370.78 L146.77 370.07 L143.53 367.25 L142.00 365.83 L139.94 363.73 L137.23 360.79 L136.74 360.20 L134.00 356.68 L132.46 354.58 L131.53 353.16 L129.36 349.63 L127.69 346.77 L127.35 346.11 L125.65 342.58 L124.04 339.06 L122.92 336.47 L122.57 335.53 L121.32 332.01 L120.15 328.49 L119.04 324.96 L118.15 321.94 L118.02 321.44 L117.18 317.91 L116.39 314.39 L115.65 310.86 L114.95 307.34 L114.30 303.82 L113.69 300.29 L113.38 298.41 L113.15 296.77 L112.69 293.24 L112.27 289.72 L111.87 286.19 L111.49 282.67 L111.14 279.15 L110.82 275.62 L110.51 272.10 L110.23 268.57 L109.97 265.05 L109.72 261.53 L109.50 258.00 L109.28 254.48 L109.08 250.95 L108.90 247.43 L108.73 243.90 L108.62 241.43 L108.57 240.38 L108.45 236.86 L108.33 233.33 L108.21 229.81 L108.11 226.28 L108.01 222.76 L107.92 219.23 L107.84 215.71 L107.76 212.19 L107.69 208.66 L107.62 205.14 L107.56 201.61 L107.50 198.09 L107.45 194.56 L107.40 191.04 L107.35 187.52 L107.30 183.99 L107.26 180.47 L107.22 176.94 L107.19 173.42 L107.15 169.90 L107.12 166.37 L107.09 162.85 L107.07 159.32 L107.04 155.80 L107.02 152.27 L106.99 148.75 L106.97 145.23 L106.95 141.70 L106.94 138.18 L106.92 134.65 L106.90 131.13 L106.89 127.60 L106.87 124.08 L106.86 120.56 L106.85 117.03 L106.84 113.51 L106.83 109.98 L106.81 106.46 L106.81 102.93 L106.80 99.41 L106.79 95.89 L106.78 92.36 L106.77 88.84 L106.77 85.31 L106.76 81.79 L106.75 78.27 L106.75 74.74 L106.74 71.22 L106.74 67.69 L106.73 64.17 L106.73 60.64 L106.72 57.12 M263.43 57.12 L263.43 60.64 L263.44 64.17 L263.45 67.69 L263.45 71.22 L263.46 74.74 L263.47 78.27 L263.48 81.79 L263.50 85.31 L263.51 88.84 L263.53 92.36 L263.55 95.89 L263.57 99.41 L263.59 102.93 L263.62 106.46 L263.64 109.98 L263.67 113.51 L263.71 117.03 L263.75 120.56 L263.79 124.08 L263.84 127.60 L263.89 131.13 L263.95 134.65 L264.01 138.18 L264.08 141.70 L264.16 145.23 L264.24 148.75 L264.34 152.27 L264.44 155.80 L264.56 159.32 L264.69 162.85 L264.83 166.37 L264.99 169.90 L265.16 173.42 L265.35 176.94 L265.56 180.47 L265.80 183.99 L266.00 186.77 L266.06 187.52 L266.35 191.04 L266.67 194.56 L267.03 198.09 L267.43 201.61 L267.88 205.14 L268.37 208.66 L268.93 212.19 L269.54 215.71 L270.23 219.23 L270.77 221.71 L271.01 222.76 L271.89 226.28 L272.88 229.81 L274.00 233.33 L275.27 236.86 L275.54 237.54 L276.73 240.38 L278.40 243.90 L280.30 247.43 L280.31 247.44 L282.56 250.95 L285.08 254.39 L285.14 254.48 L288.25 258.00 L289.85 259.61 L291.94 261.53 L294.62 263.71 L296.42 265.05 L299.38 267.02 L301.98 268.57 L304.15 269.75 L308.92 272.05 L309.04 272.10 L313.69 273.96 L318.45 275.62 L318.46 275.63 L323.23 277.03 L328.00 278.27 L331.84 279.15 L332.77 279.35 L337.54 280.28 L342.31 281.11 L347.08 281.84 L351.85 282.50 L353.26 282.67 L356.62 283.07 L361.38 283.58 L366.15 284.03 L370.92 284.44 L375.69 284.81 L380.46 285.14 L385.23 285.43 L390.00 285.70 L394.77 285.94 L399.54 286.15 L400.55 286.19 L404.31 286.35 L409.08 286.52 L413.85 286.68 L418.62 286.82 L423.38 286.95 L428.15 287.06 L432.92 287.17 L437.69 287.26 L442.46 287.35 L447.23 287.42 L452.00 287.49 L456.77 287.56 L461.54 287.61 L466.31 287.67 L471.08 287.71 L475.85 287.76 L480.62 287.79 L485.38 287.83 L490.15 287.86 L494.92 287.89 L499.69 287.91 L504.46 287.94 L509.23 287.96 L514.00 287.98 L518.77 287.99 L523.54 288.01 L528.31 288.02 L533.08 288.03 L537.85 288.04 L542.62 288.05 L547.38 288.06 L552.15 288.07 L556.92 288.08 L561.69 288.08 L566.46 288.09 L571.23 288.09 L576.00 288.10" stroke="#addc30" stroke-width="2.083"/>
<path d="M576.00 406.21 L571.23 406.21 L566.46 406.21 L561.69 406.20 L556.92 406.20 L552.15 406.20 L547.38 406.19 L542.62 406.19 L537.85 406.19 L533.08 406.18 L528.31 406.18 L523.54 406.17 L518.77 406.16 L514.00 406.16 L509.23 406.15 L504.46 406.15 L499.69 406.14 L494.92 406.13 L490.15 406.12 L485.38 406.11 L480.62 406.11 L475.85 406.10 L471.08 406.09 L466.31 406.07 L461.54 406.06 L456.77 406.05 L452.00 406.04 L447.23 406.02 L446.66 406.02 L442.46 406.00 L437.69 405.98 L432.92 405.96 L428.15 405.94 L423.38 405.92 L418.62 405.89 L413.85 405.86 L409.08 405.83 L404.31 405.80 L399.54 405.77 L394.77 405.73 L390.00 405.69 L385.23 405.65 L380.46 405.61 L375.69 405.56 L370.92 405.51 L366.15 405.45 L361.38 405.39 L356.62 405.33 L351.85 405.26 L347.08 405.19 L342.31 405.11 L337.54 405.03 L332.77 404.93 L328.00 404.84 L323.23 404.73 L318.46 404.62 L313.69 404.50 L308.92 404.37 L304.15 404.23 L299.38 404.08 L294.62 403.91 L289.85 403.74 L285.08 403.55 L280.31 403.35 L275.54 403.14 L270.77 402.91 L266.00 402.66 L263.04 402.49 L261.23 402.38 L256.46 402.05 L251.69 401.70 L246.92 401.32 L242.15 400.92 L237.38 400.48 L232.62 400.02 L227.85 399.53 L223.08 399.00 L222.86 398.97 L218.31 398.35 L213.54 397.66 L208.77 396.92 L204.00 396.13 L200.11 395.45 L199.23 395.27 L194.46 394.25 L189.69 393.16 L184.92 392.01 L184.57 391.92 L180.15 390.63 L175.38 389.16 L173.07 388.40 L170.62 387.49 L165.85 385.63 L164.05 384.87 L161.08 383.49 L156.73 381.35 L156.31 381.12 L151.54 378.34 L150.72 377.82 L146.77 375.13 L145.65 374.30 L142.00 371.38 L141.30 370.78 L137.54 367.25 L137.23 366.94 L134.33 363.73 L132.46 361.53 L131.44 360.20 L128.91 356.68 L127.69 354.87 L126.66 353.16 L124.67 349.63 L122.92 346.37 L122.80 346.11 L121.24 342.58 L119.77 339.06 L118.39 335.53 L118.15 334.88 L117.23 332.01 L116.16 328.49 L115.16 324.96 L114.22 321.44 L113.38 318.07 L113.35 317.91 L112.63 314.39 L111.96 310.86 L111.34 307.34 L110.75 303.82 L110.21 300.29 L109.70 296.77 L109.22 293.24 L108.77 289.72 L108.62 288.38 L108.39 286.19 L108.06 282.67 L107.74 279.15 L107.45 275.62 L107.18 272.10 L106.93 268.57 L106.69 265.05 L106.48 261.53 L106.27 258.00 L106.08 254.48 L105.91 250.95 L105.74 247.43 L105.59 243.90 L105.45 240.38 L105.31 236.86 L105.19 233.33 L105.08 229.81 L104.97 226.28 L104.87 222.76 L104.78 219.23 L104.69 215.71 L104.61 212.19 L104.54 208.66 L104.47 205.14 L104.40 201.61 L104.34 198.09 L104.28 194.56 L104.23 191.04 L104.18 187.52 L104.14 183.99 L104.10 180.47 L104.06 176.94 L104.02 173.42 L103.98 169.90 L103.95 166.37 L103.92 162.85 L103.89 159.32 L103.87 155.80 L103.85 152.70 L103.84 152.27 L103.82 148.75 L103.81 145.23 L103.79 141.70 L103.77 138.18 L103.76 134.65 L103.74 131.13 L103.73 127.60 L103.72 124.08 L103.70 120.56 L103.69 117.03 L103.68 113.51 L103.67 109.98 L103.66 106.46 L103.66 102.93 L103.65 99.41 L103.64 95.89 L103.63 92.36 L103.63 88.84 L103.62 85.31 L103.62 81.79 L103.61 78.27 L103.60 74.74 L103.60 71.22 L103.60 67.69 L103.59 64.17 L103.59 60.64 L103.58 57.12 M275.46 57.12 L275.47 60.64 L275.48 64.17 L275.49 67.69 L275.50 71.22 L275.51 74.74 L275.53 78.27 L275.54 80.07 L275.55 81.79 L275.57 85.31 L275.59 88.84 L275.61 92.36 L275.64 95.89 L275.67 99.41 L275.70 102.93 L275.73 106.46 L275.77 109.98 L275.81 113.51 L275.86 117.03 L275.91 120.56 L275.97 124.08 L276.04 127.60 L276.11 131.13 L276.19 134.65 L276.27 138.18 L276.37 141.70 L276.47 145.23 L276.59 148.75 L276.72 152.27 L276.86 155.80 L277.01 159.32 L277.18 162.85 L277.37 166.37 L277.58 169.90 L277.82 173.42 L278.07 176.94 L278.36 180.47 L278.67 183.99 L279.02 187.52 L279.41 191.04 L279.84 194.56 L280.31 198.06 L280.31 198.09 L280.85 201.61 L281.46 205.14 L282.13 208.66 L282.88 212.19 L283.73 215.71 L284.67 219.23 L285.08 220.60 L285.75 222.76 L286.98 226.28 L288.36 229.81 L289.85 233.15 L289.93 233.33 L291.78 236.86 L293.87 240.38 L294.62 241.50 L296.34 243.90 L299.20 247.43 L299.38 247.63 L302.65 250.95 L304.15 252.31 L306.79 254.48 L308.92 256.06 L311.85 258.00 L313.69 259.11 L318.19 261.53 L318.46 261.66 L323.23 263.78 L326.49 265.05 L328.00 265.60 L332.77 267.15 L337.54 268.51 L337.79 268.57 L342.31 269.67 L347.08 270.69 L351.85 271.60 L354.76 272.10 L356.62 272.40 L361.38 273.10 L366.15 273.72 L370.92 274.27 L375.69 274.77 L380.46 275.22 L385.23 275.62 L385.27 275.62 L390.00 275.97 L394.77 276.29 L399.54 276.57 L404.31 276.83 L409.08 277.06 L413.85 277.27 L418.62 277.46 L423.38 277.63 L428.15 277.79 L432.92 277.93 L437.69 278.06 L442.46 278.17 L447.23 278.28 L452.00 278.37 L456.77 278.46 L461.54 278.53 L466.31 278.60 L471.08 278.67 L475.85 278.73 L480.62 278.78 L485.38 278.83 L490.15 278.87 L494.92 278.91 L499.69 278.94 L504.46 278.97 L509.23 279.00 L514.00 279.03 L518.77 279.05 L523.54 279.07 L528.31 279.09 L533.08 279.11 L537.85 279.13 L542.62 279.14 L544.95 279.15 L547.38 279.15 L552.15 279.16 L556.92 279.17 L561.69 279.18 L566.46 279.19 L571.23 279.20 L576.00 279.20" stroke="#fde725" stroke-width="2.083"/>
<polyline points="161.08,141.70 160.78,143.23 160.49,144.76" stroke="#000080" stroke-width="1.389" stroke-linecap="butt"/>
<polyline points="160.49,144.76 160.21,146.29 159.94,147.83" stroke="#000080" stroke-width="1.389" stroke-linecap="butt"/>
<polyline points="159.94,147.83 159.68,149.36 159.44,150.90" stroke="#000084" stroke-width="1.389" stroke-linecap="butt"/>
<polyline points="159.44,150.90 159.21,152.45 159.01,154.00" stroke="#000084" stroke-width="1.389" stroke-linecap="butt"/>
<polyline points="159.01,154.00 158.83,155.56 158.68,157.13" stroke="#000089" stroke-width="1.389" stroke-linecap="butt"/>
<polyline points="158.68,157.13 158.55,158.71 158.45,160.29" stroke="#000089" stroke-width="1.389" stroke-linecap="butt"/>
<polyline points="158.45,160.29 158.38,161.89 158.35,163.49" stroke="#00008d" stroke-width="1.389" stroke-linecap="butt"/>
<polyline points="158.35,163.49 158.34,165.10 158.36,166.72" stroke="#00008d" stroke-width="1.389" stroke-linecap="butt"/>
<polyline points="158.36,166.72 158.42,168.36 158.50,170.00" stroke="#000092" stroke-width="1.389" stroke-linecap="butt"/>
<polyline points="158.50,170.00 158.62,171.65 158.76,173.30" stroke="#000092" stroke-width="1.389" stroke-linecap="butt"/>
<polyline points="158.76,173.30 158.93,174.97 159.13,176.64" stroke="#000096" stroke-width="1.389" stroke-linecap="butt"/>
<polyline points="159.13,176.64 159.35,178.32 159.59,180.01" stroke="#000096" stroke-width="1.389" stroke-linecap="butt"/>
<polyline points="159.59,180.01 159.86,181.69 160.13,183.39" stroke="#00009b" stroke-width="1.389" stroke-linecap="butt"/>
<polyline points="160.13,183.39 160.42,185.08 160.73,186.78" stroke="#00009b" stroke-width="1.389" stroke-linecap="butt"/>
<polyline points="160.73,186.78 161.04,188.47 161.35,190.17" stroke="#00009f" stroke-width="1.389" stroke-linecap="butt"/>
<polyline points="161.35,190.17 161.67,191.86 161.99,193.55" stroke="#00009f" stroke-width="1.389" stroke-linecap="butt"/>
<polyline points="161.99,193.55 162.31,195.24 162.62,196.92" stroke="#0000a4" stroke-width="1.389" stroke-linecap="butt"/>
<polyline points="162.62,196.92 162.92,198.60 163.20,200.26" stroke="#0000a4" stroke-width="1.389" stroke-linecap="butt"/>
<polyline points="163.20,200.26 163.48,201.92 163.74,203.57" stroke="#0000a8" stroke-width="1.389" stroke-linecap="butt"/>
<polyline points="163.74,203.57 163.98,205.21 164.20,206.84" stroke="#0000a8" stroke-width="1.389" stroke-linecap="butt"/>
<polyline points="164.20,206.84 164.39,208.45 164.57,210.06" stroke="#0000ad" stroke-width="1.389" stroke-linecap="butt"/>
<polyline points="164.57,210.06 164.72,211.65 164.84,213.23" stroke="#0000b2" stroke-width="1.389" stroke-linecap="butt"/>
<polyline points="164.84,213.23 164.94,214.79 165.01,216.34" stroke="#0000b2" stroke-width="1.389" stroke-linecap="butt"/>
<polyline points="165.01,216.34 165.06,217.88 165.07,219.40" stroke="#0000b6" stroke-width="1.389" stroke-linecap="butt"/>
<polyline points="165.07,219.40 165.06,220.91 165.03,222.40" stroke="#0000b6" stroke-width="1.389" stroke-linecap="butt"/>
<polyline points="165.03,222.40 164.97,223.88 164.88,225.35" stroke="#0000bb" stroke-width="1.389" stroke-linecap="butt"/>
<polyline points="164.88,225.35 164.77,226.80 164.64,228.25" stroke="#0000bb" stroke-width="1.389" stroke-linecap="butt"/>
<polyline points="164.64,228.25 164.49,229.67 164.32,231.09" stroke="#0000bf" stroke-width="1.389" stroke-linecap="butt"/>
<polyline points="164.32,231.09 164.14,232.49 163.94,233.89" stroke="#0000bf" stroke-width="1.389" stroke-linecap="butt"/>
<polyline points="163.94,233.89 163.73,235.27 163.51,236.65" stroke="#0000c4" stroke-width="1.389" stroke-linecap="butt"/>
<polyline points="163.51,236.65 163.29,238.01 163.06,239.37" stroke="#0000c4" stroke-width="1.389" stroke-linecap="butt"/>
<polyline points="163.06,239.37 162.83,240.72 162.60,242.07" stroke="#0000c8" stroke-width="1.389" stroke-linecap="butt"/>
<polyline points="162.60,242.07 162.38,243.41 162.16,244.74" stroke="#0000c8" stroke-width="1.389" stroke-linecap="butt"/>
<polyline points="162.16,244.74 161.96,246.07 161.76,247.40" stroke="#0000cd" stroke-width="1.389" stroke-linecap="butt"/>
<polyline points="161.76,247.40 161.58,248.73 161.42,250.05" stroke="#0000cd" stroke-width="1.389" stroke-linecap="butt"/>
<polyline points="161.42,250.05 161.28,251.38 161.16,252.70" stroke="#0000d1" stroke-width="1.389" stroke-linecap="butt"/>
<polyline points="161.16,252.70 161.06,254.02 160.99,255.34" stroke="#0000d1" stroke-width="1.389" stroke-linecap="butt"/>
<polyline points="160.99,255.34 160.95,256.67 160.94,257.99" stroke="#0000d6" stroke-width="1.389" stroke-linecap="butt"/>
<polyline points="160.94,257.99 160.95,259.32 160.99,260.64" stroke="#0000d6" stroke-width="1.389" stroke-linecap="butt"/>
<polyline points="160.99,260.64 161.07,261.97 161.18,263.30" stroke="#0000da" stroke-width="1.389" stroke-linecap="butt"/>
<polyline points="161.18,263.30 161.31,264.62 161.48,265.95" stroke="#0000da" stroke-width="1.389" stroke-linecap="butt"/>
<polyline points="161.48,265.95 161.68,267.28 161.91,268.61" stroke="#0000df" stroke-width="1.389" stroke-linecap="butt"/>
<polyline points="161.91,268.61 162.16,269.93 162.44,271.26" stroke="#0000df" stroke-width="1.389" stroke-linecap="butt"/>
<polyline points="162.44,271.26 162.75,272.58 163.09,273.89" stroke="#0000e3" stroke-width="1.389" stroke-linecap="butt"/>
<polyline points="163.09,273.89 163.45,275.21 163.82,276.52" stroke="#0000e3" stroke-width="1.389" stroke-linecap="butt"/>
<polyline points="163.82,276.52 164.22,277.82 164.64,279.12" stroke="#0000e8" stroke-width="1.389" stroke-linecap="butt"/>
<polyline points="164.64,279.12 165.07,280.40 165.51,281.69" stroke="#0000e8" stroke-width="1.389" stroke-linecap="butt"/>
<polyline points="165.51,281.69 165.97,282.96 166.44,284.22" stroke="#0000ed" stroke-width="1.389" stroke-linecap="butt"/>
<polyline points="166.44,284.22 166.91,285.47 167.39,286.71" stroke="#0000ed" stroke-width="1.389" stroke-linecap="butt"/>
<polyline points="167.39,286.71 167.87,287.94 168.36,289.15" stroke="#0000f1" stroke-width="1.389" stroke-linecap="butt"/>
<polyline points="168.36,289.15 168.84,290.35 169.33,291.54" stroke="#0000f1" stroke-width="1.389" stroke-linecap="butt"/>
<polyline points="169.33,291.54 169.81,292.71 170.29,293.87" stroke="#0000f6" stroke-width="1.389" stroke-linecap="butt"/>
<polyline points="170.29,293.87 170.77,295.01 171.24,296.14" stroke="#0000f6" stroke-width="1.389" stroke-linecap="butt"/>
<polyline points="171.24,296.14 171.70,297.25 172.15,298.34" stroke="#0000fa" stroke-width="1.389" stroke-linecap="butt"/>
<polyline points="172.15,298.34 172.60,299.42 173.03,300.48" stroke="#0000fa" stroke-width="1.389" stroke-linecap="butt"/>
<polyline points="173.03,300.48 173.46,301.52 173.88,302.55" stroke="#0000ff" stroke-width="1.389" stroke-linecap="butt"/>
<polyline points="173.88,302.55 174.29,303.56 174.68,304.55" stroke="#0000ff" stroke-width="1.389" stroke-linecap="butt"/>
<polyline points="174.68,304.55 175.07,305.52 175.45,306.48" stroke="#0000ff" stroke-width="1.389" stroke-linecap="butt"/>
<polyline points="175.45,306.48 175.82,307.42 176.18,308.34" stroke="#0000ff" stroke-width="1.389" stroke-linecap="butt"/>
<polyline points="176.18,308.34 176.53,309.24 176.87,310.13" stroke="#0000ff" stroke-width="1.389" stroke-linecap="butt"/>
<polyline points="176.87,310.13 177.21,311.00 177.54,311.86" stroke="#0000ff" stroke-width="1.389" stroke-linecap="butt"/>
<polyline points="177.54,311.86 177.86,312.69 178.17,313.51" stroke="#0000ff" stroke-width="1.389" stroke-linecap="butt"/>
<polyline points="178.17,313.51 178.48,314.32 178.78,315.11" stroke="#0000ff" stroke-width="1.389" stroke-linecap="butt"/>
<polyline points="178.78,315.11 179.09,315.88 179.38,316.63" stroke="#0000ff" stroke-width="1.389" stroke-linecap="butt"/>
<polyline points="179.38,316.63 179.68,317.37 179.97,318.10" stroke="#0004ff" stroke-width="1.389" stroke-linecap="butt"/>
<polyline points="179.97,318.10 180.26,318.81 180.55,319.50" stroke="#0004ff" stroke-width="1.389" stroke-linecap="butt"/>
<polyline points="180.55,319.50 180.85,320.18 181.14,320.84" stroke="#0008ff" stroke-width="1.389" stroke-linecap="butt"/>
<polyline points="181.14,320.84 181.44,321.49 181.74,322.12" stroke="#0008ff" stroke-width="1.389" stroke-linecap="butt"/>
<polyline points="181.74,322.12 182.04,322.74 182.35,323.34" stroke="#000cff" stroke-width="1.389" stroke-linecap="butt"/>
<polyline points="182.35,323.34 182.66,323.93 182.97,324.51" stroke="#000cff" stroke-width="1.389" stroke-linecap="butt"/>
<polyline points="182.97,324.51 183.30,325.07 183.62,325.61" stroke="#0010ff" stroke-width="1.389" stroke-linecap="butt"/>
<polyline points="183.62,325.61 183.96,326.14 184.30,326.66" stroke="#0010ff" stroke-width="1.389" stroke-linecap="butt"/>
<polyline points="184.30,326.66 184.65,327.16 185.01,327.65" stroke="#0014ff" stroke-width="1.389" stroke-linecap="butt"/>
<polyline points="185.01,327.65 185.38,328.13 185.75,328.59" stroke="#0014ff" stroke-width="1.389" stroke-linecap="butt"/>
<polyline points="185.75,328.59 186.14,329.03 186.53,329.47" stroke="#0018ff" stroke-width="1.389" stroke-linecap="butt"/>
<polyline points="186.53,329.47 186.94,329.89 187.35,330.29" stroke="#0018ff" stroke-width="1.389" stroke-linecap="butt"/>
<polyline points="187.35,330.29 187.77,330.69 188.20,331.07" stroke="#001cff" stroke-width="1.389" stroke-linecap="butt"/>
<polyline points="188.20,331.07 188.65,331.43 189.10,331.79" stroke="#001cff" stroke-width="1.389" stroke-linecap="butt"/>
<polyline points="189.10,331.79 189.56,332.13 190.03,332.46" stroke="#0020ff" stroke-width="1.389" stroke-linecap="butt"/>
<polyline points="190.03,332.46 190.51,332.78 191.00,333.08" stroke="#0020ff" stroke-width="1.389" stroke-linecap="butt"/>
<polyline points="191.00,333.08 191.50,333.38 192.01,333.66" stroke="#0024ff" stroke-width="1.389" stroke-linecap="butt"/>
<polyline points="192.01,333.66 192.53,333.93 193.06,334.19" stroke="#0024ff" stroke-width="1.389" stroke-linecap="butt"/>
<polyline points="193.06,334.19 193.60,334.44 194.14,334.69" stroke="#0028ff" stroke-width="1.389" stroke-linecap="butt"/>
<polyline points="194.14,334.69 194.70,334.92 195.26,335.14" stroke="#0028ff" stroke-width="1.389" stroke-linecap="butt"/>
<polyline points="195.26,335.14 195.83,335.36 196.41,335.57" stroke="#002cff" stroke-width="1.389" stroke-linecap="butt"/>
<polyline points="196.41,335.57 197.00,335.77 197.60,335.96" stroke="#002cff" stroke-width="1.389" stroke-linecap="butt"/>
<polyline points="197.60,335.96 198.20,336.15 198.81,336.33" stroke="#0030ff" stroke-width="1.389" stroke-linecap="butt"/>
<polyline points="198.81,336.33 199.43,336.50 200.05,336.67" stroke="#0030ff" stroke-width="1.389" stroke-linecap="butt"/>
<polyline points="200.05,336.67 200.69,336.84 201.33,337.01" stroke="#0034ff" stroke-width="1.389" stroke-linecap="butt"/>
<polyline points="201.33,337.01 201.97,337.17 202.63,337.33" stroke="#0034ff" stroke-width="1.389" stroke-linecap="butt"/>
<polyline points="202.63,337.33 203.29,337.49 203.96,337.65" stroke="#0038ff" stroke-width="1.389" stroke-linecap="butt"/>
<polyline points="203.96,337.65 204.63,337.81 205.31,337.97" stroke="#0038ff" stroke-width="1.389" stroke-linecap="butt"/>
<polyline points="205.31,337.97 206.00,338.13 206.70,338.30" stroke="#003cff" stroke-width="1.389" stroke-linecap="butt"/>
<polyline points="206.70,338.30 207.40,338.47 208.12,338.65" stroke="#003cff" stroke-width="1.389" stroke-linecap="butt"/>
<polyline points="208.12,338.65 208.84,338.83 209.56,339.01" stroke="#0040ff" stroke-width="1.389" stroke-linecap="butt"/>
<polyline points="209.56,339.01 210.30,339.21 211.05,339.41" stroke="#0040ff" stroke-width="1.389" stroke-linecap="butt"/>
<polyline points="211.05,339.41 211.80,339.62 212.57,339.84" stroke="#0044ff" stroke-width="1.389" stroke-linecap="butt"/>
<polyline points="212.57,339.84 213.34,340.07 214.13,340.32" stroke="#0044ff" stroke-width="1.389" stroke-linecap="butt"/>
<polyline points="214.13,340.32 214.92,340.57 215.73,340.84" stroke="#0048ff" stroke-width="1.389" stroke-linecap="butt"/>
<polyline points="215.73,340.84 216.55,341.12 217.39,341.42" stroke="#0048ff" stroke-width="1.389" stroke-linecap="butt"/>
<polyline points="217.39,341.42 218.23,341.73 219.10,342.06" stroke="#004cff" stroke-width="1.389" stroke-linecap="butt"/>
<polyline points="219.10,342.06 219.97,342.41 220.86,342.77" stroke="#004cff" stroke-width="1.389" stroke-linecap="butt"/>
<polyline points="220.86,342.77 221.77,343.15 222.70,343.55" stroke="#0050ff" stroke-width="1.389" stroke-linecap="butt"/>
<polyline points="222.70,343.55 223.65,343.97 224.61,344.41" stroke="#0050ff" stroke-width="1.389" stroke-linecap="butt"/>
<polyline points="224.61,344.41 225.59,344.87 226.60,345.35" stroke="#0054ff" stroke-width="1.389" stroke-linecap="butt"/>
<polyline points="226.60,345.35 227.62,345.86 228.67,346.38" stroke="#0058ff" stroke-width="1.389" stroke-linecap="butt"/>
<polyline points="228.67,346.38 229.74,346.92 230.84,347.48" stroke="#0058ff" stroke-width="1.389" stroke-linecap="butt"/>
<polyline points="230.84,347.48 231.95,348.07 233.10,348.67" stroke="#005cff" stroke-width="1.389" stroke-linecap="butt"/>
<polyline points="233.10,348.67 234.26,349.29 235.46,349.93" stroke="#005cff" stroke-width="1.389" stroke-linecap="butt"/>
<polyline points="235.46,349.93 236.67,350.59 237.92,351.26" stroke="#0060ff" stroke-width="1.389" stroke-linecap="butt"/>
<polyline points="237.92,351.26 239.18,351.95 240.48,352.66" stroke="#0060ff" stroke-width="1.389" stroke-linecap="butt"/>
<polyline points="240.48,352.66 241.80,353.37 243.14,354.09" stroke="#0064ff" stroke-width="1.389" stroke-linecap="butt"/>
<polyline points="243.14,354.09 244.50,354.82 245.89,355.56" stroke="#0064ff" stroke-width="1.389" stroke-linecap="butt"/>
<polyline points="245.89,355.56 247.30,356.30 248.73,357.04" stroke="#0068ff" stroke-width="1.389" stroke-linecap="butt"/>
<polyline points="248.73,357.04 250.18,357.77 251.64,358.50" stroke="#0068ff" stroke-width="1.389" stroke-linecap="butt"/>
<polyline points="251.64,358.50 253.13,359.21 254.62,359.91" stroke="#006cff" stroke-width="1.389" stroke-linecap="butt"/>
<polyline points="254.62,359.91 256.12,360.60 257.64,361.26" stroke="#006cff" stroke-width="1.389" stroke-linecap="butt"/>
<polyline points="257.64,361.26 259.16,361.89 260.68,362.50" stroke="#0070ff" stroke-width="1.389" stroke-linecap="butt"/>
<polyline points="260.68,362.50 262.21,363.07 263.74,363.60" stroke="#0070ff" stroke-width="1.389" stroke-linecap="butt"/>
<polyline points="263.74,363.60 265.26,364.10 266.78,364.55" stroke="#0074ff" stroke-width="1.389" stroke-linecap="butt"/>
<polyline points="266.78,364.55 268.29,364.95 269.79,365.30" stroke="#0074ff" stroke-width="1.389" stroke-linecap="butt"/>
<polyline points="269.79,365.30 271.28,365.60 272.75,365.84" stroke="#0078ff" stroke-width="1.389" stroke-linecap="butt"/>
<polyline points="272.75,365.84 274.22,366.03 275.67,366.16" stroke="#0078ff" stroke-width="1.389" stroke-linecap="butt"/>
<polyline points="275.67,366.16 277.10,366.24 278.51,366.25" stroke="#007cff" stroke-width="1.389" stroke-linecap="butt"/>
<polyline points="278.51,366.25 279.91,366.21 281.29,366.12" stroke="#007cff" stroke-width="1.389" stroke-linecap="butt"/>
<polyline points="281.29,366.12 282.66,365.96 284.01,365.76" stroke="#0080ff" stroke-width="1.389" stroke-linecap="butt"/>
<polyline points="284.01,365.76 285.35,365.51 286.68,365.21" stroke="#0080ff" stroke-width="1.389" stroke-linecap="butt"/>
<polyline points="286.68,365.21 287.99,364.87 289.30,364.49" stroke="#0084ff" stroke-width="1.389" stroke-linecap="butt"/>
<polyline points="289.30,364.49 290.61,364.08 291.91,363.64" stroke="#0084ff" stroke-width="1.389" stroke-linecap="butt"/>
<polyline points="291.91,363.64 293.20,363.17 294.51,362.68" stroke="#0088ff" stroke-width="1.389" stroke-linecap="butt"/>
<polyline points="294.51,362.68 295.81,362.18 297.12,361.67" stroke="#0088ff" stroke-width="1.389" stroke-linecap="butt"/>
<polyline points="297.12,361.67 298.44,361.15 299.78,360.63" stroke="#008cff" stroke-width="1.389" stroke-linecap="butt"/>
<polyline points="299.78,360.63 301.13,360.12 302.50,359.62" stroke="#008cff" stroke-width="1.389" stroke-linecap="butt"/>
<polyline points="302.50,359.62 303.89,359.13 305.31,358.66" stroke="#0090ff" stroke-width="1.389" stroke-linecap="butt"/>
<polyline points="305.31,358.66 306.75,358.22 308.21,357.80" stroke="#0090ff" stroke-width="1.389" stroke-linecap="butt"/>
<polyline points="308.21,357.80 309.71,357.42 311.24,357.07" stroke="#0094ff" stroke-width="1.389" stroke-linecap="butt"/>
<polyline points="311.24,357.07 312.81,356.76 314.41,356.49" stroke="#0094ff" stroke-width="1.389" stroke-linecap="butt"/>
<polyline points="314.41,356.49 316.05,356.26 317.72,356.08" stroke="#0098ff" stroke-width="1.389" stroke-linecap="butt"/>
<polyline points="317.72,356.08 319.44,355.95 321.20,355.86" stroke="#0098ff" stroke-width="1.389" stroke-linecap="butt"/>
<polyline points="321.20,355.86 322.99,355.83 324.83,355.85" stroke="#009cff" stroke-width="1.389" stroke-linecap="butt"/>
<polyline points="324.83,355.85 326.71,355.92 328.63,356.05" stroke="#009cff" stroke-width="1.389" stroke-linecap="butt"/>
<polyline points="328.63,356.05 330.60,356.22 332.60,356.45" stroke="#00a0ff" stroke-width="1.389" stroke-linecap="butt"/>
<polyline points="332.60,356.45 334.64,356.72 336.73,357.05" stroke="#00a0ff" stroke-width="1.389" stroke-linecap="butt"/>
<polyline points="336.73,357.05 338.85,357.42 341.00,357.84" stroke="#00a4ff" stroke-width="1.389" stroke-linecap="butt"/>
<polyline points="341.00,357.84 343.19,358.29 345.41,358.79" stroke="#00a4ff" stroke-width="1.389" stroke-linecap="butt"/>
<polyline points="345.41,358.79 347.67,359.32 349.94,359.88" stroke="#00a8ff" stroke-width="1.389" stroke-linecap="butt"/>
<polyline points="349.94,359.88 352.25,360.47 354.57,361.08" stroke="#00acff" stroke-width="1.389" stroke-linecap="butt"/>
<polyline points="354.57,361.08 356.91,361.70 359.26,362.34" stroke="#00acff" stroke-width="1.389" stroke-linecap="butt"/>
<polyline points="359.26,362.34 361.63,362.98 364.00,363.62" stroke="#00b0ff" stroke-width="1.389" stroke-linecap="butt"/>
<polyline points="364.00,363.62 366.37,364.26 368.74,364.89" stroke="#00b0ff" stroke-width="1.389" stroke-linecap="butt"/>
<polyline points="368.74,364.89 371.10,365.49 373.46,366.08" stroke="#00b4ff" stroke-width="1.389" stroke-linecap="butt"/>
<polyline points="373.46,366.08 375.79,366.63 378.11,367.15" stroke="#00b4ff" stroke-width="1.389" stroke-linecap="butt"/>
<polyline points="378.11,367.15 380.41,367.62 382.68,368.05" stroke="#00b8ff" stroke-width="1.389" stroke-linecap="butt"/>
<polyline points="382.68,368.05 384.92,368.43 387.13,368.75" stroke="#00b8ff" stroke-width="1.389" stroke-linecap="butt"/>
<polyline points="387.13,368.75 389.31,369.01 391.45,369.21" stroke="#00bcff" stroke-width="1.389" stroke-linecap="butt"/>
<polyline points="391.45,369.21 393.55,369.35 395.61,369.42" stroke="#00bcff" stroke-width="1.389" stroke-linecap="butt"/>
<polyline points="395.61,369.42 397.62,369.43 399.60,369.36" stroke="#00c0ff" stroke-width="1.389" stroke-linecap="butt"/>
<polyline points="399.60,369.36 401.54,369.24 403.44,369.04" stroke="#00c0ff" stroke-width="1.389" stroke-linecap="butt"/>
<polyline points="403.44,369.04 405.31,368.79 407.13,368.48" stroke="#00c4ff" stroke-width="1.389" stroke-linecap="butt"/>
<polyline points="407.13,368.48 408.93,368.11 410.69,367.70" stroke="#00c4ff" stroke-width="1.389" stroke-linecap="butt"/>
<polyline points="410.69,367.70 412.43,367.23 414.14,366.73" stroke="#00c8ff" stroke-width="1.389" stroke-linecap="butt"/>
<polyline points="414.14,366.73 415.83,366.20 417.51,365.63" stroke="#00c8ff" stroke-width="1.389" stroke-linecap="butt"/>
<polyline points="417.51,365.63 419.18,365.04 420.84,364.44" stroke="#00ccff" stroke-width="1.389" stroke-linecap="butt"/>
<polyline points="420.84,364.44 422.49,363.83 424.14,363.21" stroke="#00ccff" stroke-width="1.389" stroke-linecap="butt"/>
<polyline points="424.14,363.21 425.80,362.60 427.47,361.99" stroke="#00d0ff" stroke-width="1.389" stroke-linecap="butt"/>
<polyline points="427.47,361.99 429.15,361.40 430.85,360.83" stroke="#00d0ff" stroke-width="1.389" stroke-linecap="butt"/>
<polyline points="430.85,360.83 432.57,360.29 434.31,359.78" stroke="#00d4ff" stroke-width="1.389" stroke-linecap="butt"/>
<polyline points="434.31,359.78 436.07,359.30 437.87,358.86" stroke="#00d4ff" stroke-width="1.389" stroke-linecap="butt"/>
<polyline points="437.87,358.86 439.69,358.47 441.55,358.12" stroke="#00d8ff" stroke-width="1.389" stroke-linecap="butt"/>
<polyline points="441.55,358.12 443.45,357.82 445.38,357.57" stroke="#00d8ff" stroke-width="1.389" stroke-linecap="butt"/>
<polyline points="445.38,357.57 447.35,357.38 449.36,357.25" stroke="#00dcfe" stroke-width="1.389" stroke-linecap="butt"/>
<polyline points="449.36,357.25 451.41,357.17 453.50,357.15" stroke="#00dcfe" stroke-width="1.389" stroke-linecap="butt"/>
<polyline points="453.50,357.15 455.63,357.18 457.81,357.28" stroke="#00e0fb" stroke-width="1.389" stroke-linecap="butt"/>
<polyline points="457.81,357.28 460.02,357.43 462.27,357.64" stroke="#00e0fb" stroke-width="1.389" stroke-linecap="butt"/>
<polyline points="462.27,357.64 464.56,357.90 466.89,358.21" stroke="#00e4f8" stroke-width="1.389" stroke-linecap="butt"/>
<polyline points="466.89,358.21 469.25,358.57 471.65,358.98" stroke="#00e4f8" stroke-width="1.389" stroke-linecap="butt"/>
<polyline points="471.65,358.98 474.07,359.44 476.53,359.93" stroke="#02e8f4" stroke-width="1.389" stroke-linecap="butt"/>
<polyline points="476.53,359.93 479.00,360.46 481.50,361.02" stroke="#02e8f4" stroke-width="1.389" stroke-linecap="butt"/>
<polyline points="481.50,361.02 484.02,361.60 486.56,362.20" stroke="#06ecf1" stroke-width="1.389" stroke-linecap="butt"/>
<polyline points="486.56,362.20 489.10,362.82 491.65,363.45" stroke="#06ecf1" stroke-width="1.389" stroke-linecap="butt"/>
<polyline points="491.65,363.45 494.21,364.07 496.76,364.70" stroke="#09f0ee" stroke-width="1.389" stroke-linecap="butt"/>
<polyline points="496.76,364.70 499.31,365.31 501.84,365.91" stroke="#09f0ee" stroke-width="1.389" stroke-linecap="butt"/>
<polyline points="501.84,365.91 504.37,366.48 506.87,367.03" stroke="#0cf4eb" stroke-width="1.389" stroke-linecap="butt"/>
<polyline points="506.87,367.03 509.35,367.53 511.80,368.00" stroke="#0cf4eb" stroke-width="1.389" stroke-linecap="butt"/>
<polyline points="511.80,368.00 514.23,368.42 516.61,368.79" stroke="#0ff8e7" stroke-width="1.389" stroke-linecap="butt"/>
<polyline points="516.61,368.79 518.97,369.10 521.28,369.36" stroke="#0ff8e7" stroke-width="1.389" stroke-linecap="butt"/>
<polyline points="521.28,369.36 523.55,369.55 525.78,369.67" stroke="#13fce4" stroke-width="1.389" stroke-linecap="butt"/>
<polyline points="525.78,369.67 527.96,369.73 530.10,369.72" stroke="#16ffe1" stroke-width="1.389" stroke-linecap="butt"/>
<polyline points="530.10,369.72 532.20,369.64 534.25,369.50" stroke="#16ffe1" stroke-width="1.389" stroke-linecap="butt"/>
<polyline points="534.25,369.50 536.25,369.29 538.22,369.03" stroke="#19ffde" stroke-width="1.389" stroke-linecap="butt"/>
<polyline points="538.22,369.03 540.15,368.70 542.04,368.32" stroke="#19ffde" stroke-width="1.389" stroke-linecap="butt"/>
<polyline points="542.04,368.32 543.90,367.88 545.73,367.41" stroke="#1cffdb" stroke-width="1.389" stroke-linecap="butt"/>
<polyline points="545.73,367.41 547.53,366.89 549.31,366.34" stroke="#1cffdb" stroke-width="1.389" stroke-linecap="butt"/>
<polyline points="549.31,366.34 551.07,365.76 552.82,365.16" stroke="#1fffd7" stroke-width="1.389" stroke-linecap="butt"/>
<polyline points="552.82,365.16 554.56,364.54 556.29,363.92" stroke="#1fffd7" stroke-width="1.389" stroke-linecap="butt"/>
<polyline points="556.29,363.92 558.02,363.29 559.76,362.67" stroke="#23ffd4" stroke-width="1.389" stroke-linecap="butt"/>
<polyline points="559.76,362.67 561.50,362.06 563.26,361.46" stroke="#23ffd4" stroke-width="1.389" stroke-linecap="butt"/>
<polyline points="563.26,361.46 565.03,360.89 566.82,360.35" stroke="#26ffd1" stroke-width="1.389" stroke-linecap="butt"/>
<polyline points="566.82,360.35 568.63,359.83 570.47,359.35" stroke="#26ffd1" stroke-width="1.389" stroke-linecap="butt"/>
<polyline points="570.47,359.35 572.33,358.92 574.23,358.53" stroke="#29ffce" stroke-width="1.389" stroke-linecap="butt"/>
<polyline points="574.23,358.53 576.16,358.18 578.12,357.89" stroke="#29ffce" stroke-width="1.389" stroke-linecap="butt"/>
<polyline points="578.12,357.89 580.12,357.65 582.16,357.47" stroke="#2cffca" stroke-width="1.389" stroke-linecap="butt"/>
<polyline points="582.16,357.47 584.24,357.34 586.36,357.27" stroke="#2cffca" stroke-width="1.389" stroke-linecap="butt"/>
<polyline points="586.36,357.27 588.51,357.26" stroke="#30ffc7" stroke-width="1.389" stroke-linecap="butt"/>
<path d="M157.50 138.50L165.50 146.50M157.50 146.50L165.50 138.50" stroke="#ff0000" stroke-width="1.6"/>
</g>
<g stroke="#000000" stroke-width="1.111" fill="none" stroke-linecap="square">
<path d="M80.5 57.5L80.5 424.5L576.5 424.5L576.5 57.5Z"/>
</g>
<path d="M104.5 424.5v5 M80.5 406.5h-5 M163.5 424.5v5 M80.5 362.5h-5 M223.5 424.5v5 M80.5 318.5h-5 M283.5 424.5v5 M80.5 274.5h-5 M342.5 424.5v5 M80.5 230.5h-5 M402.5 424.5v5 M80.5 186.5h-5 M462.5 424.5v5 M80.5 142.5h-5 M521.5 424.5v5 M80.5 98.5h-5" stroke="#000000" stroke-width="1.111" fill="none"/>
<g font-family='"DejaVu Sans", "Liberation Sans", sans-serif' font-size="13.889px" fill="#000000">
<text x="103.85" y="444" text-anchor="middle">0.50</text>
<text x="163.46" y="444" text-anchor="middle">0.75</text>
<text x="223.08" y="444" text-anchor="middle">1.00</text>
<text x="282.69" y="444" text-anchor="middle">1.25</text>
<text x="342.31" y="444" text-anchor="middle">1.50</text>
<text x="401.92" y="444" text-anchor="middle">1.75</text>
<text x="461.54" y="444" text-anchor="middle">2.00</text>
<text x="521.15" y="444" text-anchor="middle">2.25</text>
<text x="70.0" y="412" text-anchor="end">0.50</text>
<text x="70.0" y="367" text-anchor="end">0.75</text>
<text x="70.0" y="323" text-anchor="end">1.00</text>
<text x="70.0" y="279" text-anchor="end">1.25</text>
<text x="70.0" y="235" text-anchor="end">1.50</text>
<text x="70.0" y="191" text-anchor="end">1.75</text>
<text x="70.0" y="147" text-anchor="end">2.00</text>
<text x="70.0" y="103" text-anchor="end">2.25</text>
<text x="328" y="464" text-anchor="middle">AB Distance</text>
<text transform="translate(30.91 241.3) rotate(-90)" text-anchor="middle">BC Distance</text>
</g>
</svg>
</body></html>
